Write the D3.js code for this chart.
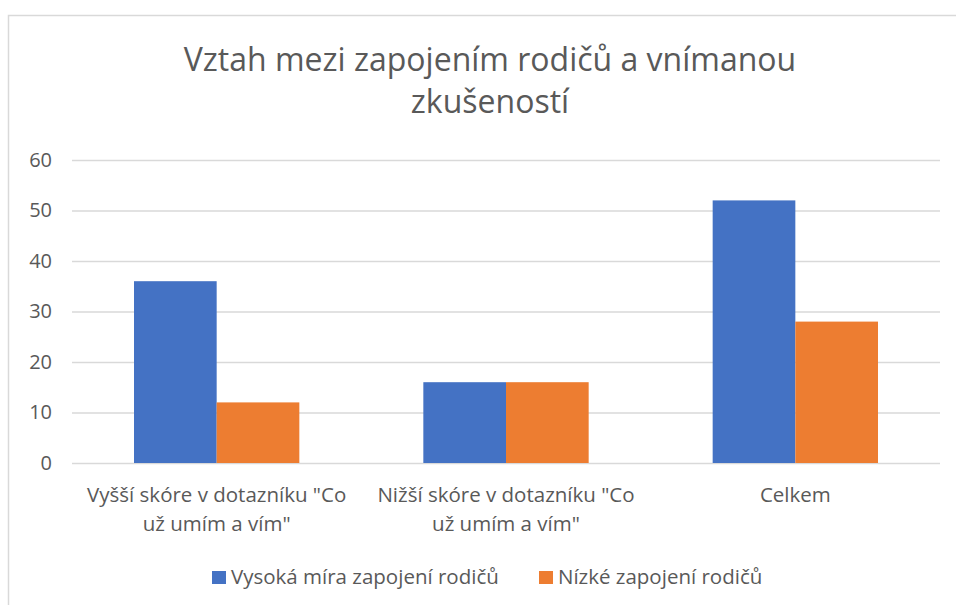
<!DOCTYPE html>
<html>
<head>
<meta charset="utf-8">
<script src="https://cdn.jsdelivr.net/npm/d3@7"></script>
<style>
  body { margin: 0; background: #fff; }
  text { font-family: "Open Sans", sans-serif; fill: #595959; }
</style>
</head>
<body>
<script>
// data
var categories = [["Vyšší skóre v dotazníku \"Co", "už umím a vím\""],
                  ["Nižší skóre v dotazníku \"Co", "už umím a vím\""],
                  ["Celkem"]];
var seriesNames = ["Vysoká míra zapojení rodičů", "Nízké zapojení rodičů"];
var highValues = [36, 16, 52];
var lowValues = [12, 16, 28];
var yTicks = [0, 10, 20, 30, 40, 50, 60];
var colors = ["#4472c4", "#ed7d31"];

var w = 956, h = 605;
var plotLeft = 72, plotRight = 940, plotTop = 160, plotBottom = 463;

var svg = d3.select("body").append("svg")
  .attr("width", w)
  .attr("height", h);

// chart border
svg.append("rect")
  .attr("x", 8.5).attr("y", 15.5)
  .attr("width", 1000).attr("height", 700)
  .attr("fill", "none")
  .attr("stroke", "#d9d9d9")
  .attr("stroke-width", 1.5);

// title
svg.append("text")
  .attr("x", 490).attr("y", 71)
  .attr("text-anchor", "middle")
  .style("font-size", "32px")
  .text("Vztah mezi zapojením rodičů a vnímanou");
svg.append("text")
  .attr("x", 490).attr("y", 113)
  .attr("text-anchor", "middle")
  .style("font-size", "32px")
  .text("zkušeností");

var x0 = d3.scaleBand()
  .domain(d3.range(categories.length))
  .range([plotLeft, plotRight]);

var x1 = d3.scaleBand()
  .domain([0, 1])
  .range([0, x0.bandwidth()])
  .paddingOuter(0.75)
  .paddingInner(0);

var y = d3.scaleLinear()
  .domain([0, 60])
  .range([plotBottom, plotTop]);

// gridlines and y labels
var yAxis = d3.axisLeft(y)
  .tickValues(yTicks)
  .tickSize(-(plotRight - plotLeft))
  .tickPadding(20);

var gy = svg.append("g")
  .attr("transform", "translate(" + plotLeft + ",0)")
  .call(yAxis);
gy.select(".domain").remove();
gy.selectAll(".tick line").attr("stroke", "#d9d9d9").attr("stroke-width", 1.5);
gy.selectAll(".tick text")
  .style("font-size", "20px")
  .style("font-family", "'Open Sans', sans-serif")
  .attr("fill", "#595959");

// bars
var rows = categories.map(function(c, i) {
  return [highValues[i], lowValues[i]];
});

var groups = svg.selectAll(".group")
  .data(rows)
  .enter().append("g")
  .attr("class", "group")
  .attr("transform", function(d, i) { return "translate(" + x0(i) + ",0)"; });

groups.selectAll("rect")
  .data(function(d) { return d; })
  .enter().append("rect")
  .attr("x", function(d, j) { return x1(j); })
  .attr("y", function(d) { return y(d); })
  .attr("width", x1.bandwidth())
  .attr("height", function(d) { return y(0) - y(d); })
  .attr("fill", function(d, j) { return colors[j]; });

// category labels
categories.forEach(function(lines, i) {
  var t = svg.append("text")
    .attr("text-anchor", "middle")
    .style("font-size", "20.5px");
  lines.forEach(function(line, k) {
    t.append("tspan")
      .attr("x", x0(i) + x0.bandwidth() / 2)
      .attr("y", 502 + k * 29)
      .text(line);
  });
});

// legend
var legendX = [212, 539];
seriesNames.forEach(function(name, j) {
  svg.append("rect")
    .attr("x", legendX[j]).attr("y", 571)
    .attr("width", 14).attr("height", 13)
    .attr("fill", colors[j]);
  svg.append("text")
    .attr("x", legendX[j] + 19).attr("y", 584)
    .style("font-size", "20.5px")
    .text(name);
});
</script>
</body>
</html>
